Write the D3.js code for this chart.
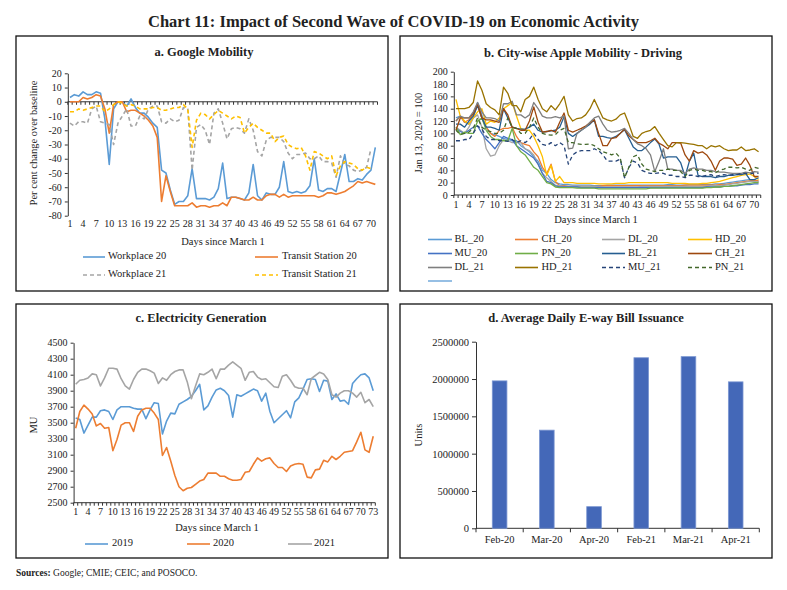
<!DOCTYPE html>
<html><head><meta charset="utf-8">
<script src="https://cdn.jsdelivr.net/npm/d3@7"></script>
<style>
body{margin:0;background:#fff}
svg{display:block}
text{font-family:"Liberation Serif","Times New Roman",serif;fill:#222}
</style>
</head><body><svg id="c" width="787" height="590"></svg>
<script>
// ---------------- DATA ----------------
const chartTitle = "Chart 11: Impact of Second Wave of COVID-19 on Economic Activity";
const sourceNote = "Google; CMIE; CEIC; and POSOCO.";

// Panel a: Google Mobility
const daysA = d3.range(1, 72);
const tickLabelsA = [1,4,7,10,13,16,19,22,25,28,31,34,37,40,43,46,49,52,55,58,61,64,67,70];
const yTicksA = [20,10,0,-10,-20,-30,-40,-50,-60,-70,-80];
const workplace20 = [3,5,4,7,5,5,7,6,-12,-44,-5,0,0,-3,2,-4,-8,-8,-11,-15,-18,-48,-50,-62,-72,-70,-70,-66,-47,-68,-68,-68,-69,-67,-61,-43,-68,-67,-67,-68,-69,-64,-44,-66,-69,-64,-65,-65,-60,-42,-63,-64,-63,-64,-63,-59,-40,-62,-63,-61,-61,-63,-50,-37,-56,-56,-54,-55,-51,-48,-32];
const transit20 = [0,0,0,3,2,3,5,4,-5,-22,-2,0,0,-7,-6,-6,-8,-10,-13,-17,-25,-70,-52,-63,-73,-73,-73,-73,-71,-74,-73,-73,-74,-73,-73,-71,-73,-67,-67,-68,-69,-69,-67,-69,-69,-66,-65,-65,-67,-65,-67,-66,-66,-66,-66,-66,-66,-67,-66,-64,-64,-65,-64,-63,-61,-59,-56,-57,-56,-57,-58];
const workplace21 = [-15,-17,-14,-14,-15,-5,-3,-14,-15,-16,-30,-15,-10,-5,-17,-17,-10,-12,-5,-3,-3,-14,-15,-12,-14,-13,-4,-5,-48,-18,-16,-20,-30,-8,-5,-15,-26,-19,-18,-19,-22,-12,-20,-35,-38,-27,-25,-25,-25,-28,-36,-40,-37,-37,-36,-40,-40,-38,-42,-42,-43,-53,-38,-44,-45,-48,-49,-48,-46,-33];
const transit21 = [-7,-7,-5,-6,-5,-4,-3,-3,-7,-5,-2,0,-1,-3,-2,-3,-5,-5,-5,-4,-4,-6,-6,-5,-4,-4,-2,-5,-32,-13,-8,-9,-12,-9,-6,-8,-10,-12,-10,-11,-22,-18,-15,-18,-20,-22,-22,-28,-25,-24,-30,-32,-33,-32,-38,-48,-35,-36,-38,-40,-38,-52,-45,-42,-43,-44,-47,-48,-46,-47];
const seriesNamesA = ["Workplace 20","Transit Station 20","Workplace 21","Transit Station 21"];

// Panel b: City-wise Apple Mobility - Driving
const daysB = d3.range(1, 72);
const tickLabelsB = [1,4,7,10,13,16,19,22,25,28,31,34,37,40,43,46,49,52,55,58,61,64,67,70];
const yTicksB = [0,20,40,60,80,100,120,140,160,180,200];
const BL_20 = [125,128,118,115,125,150,130,110,100,98,95,92,90,88,88,80,75,70,62,55,40,35,25,20,18,17,17,16,16,16,16,16,15,15,15,16,16,16,16,16,16,16,16,16,16,16,16,16,16,17,17,16,16,16,17,17,17,17,17,17,18,18,19,20,21,22,23,24,25,24,22];
const CH_20 = [120,128,118,122,130,145,125,110,100,95,105,108,108,110,95,85,82,80,70,62,45,35,50,22,15,15,14,14,14,14,14,14,14,14,15,15,15,15,15,15,15,15,15,15,15,15,15,15,15,15,15,15,15,16,16,16,16,16,16,16,16,17,17,18,19,20,21,22,23,24,23];
const DL_20 = [110,105,100,110,125,130,110,75,63,65,80,90,88,85,85,85,75,72,65,50,35,28,22,16,15,14,14,14,14,14,14,14,14,13,13,13,13,13,13,13,13,13,13,14,14,14,14,14,14,14,14,14,14,14,14,14,14,14,14,15,15,15,16,17,18,19,20,21,22,22,21];
const HD_20 = [155,128,120,115,125,135,140,115,120,118,125,140,145,150,128,108,105,105,95,80,62,32,48,22,30,20,20,20,19,19,19,19,19,18,18,18,18,19,19,19,20,20,20,20,20,20,20,20,20,20,19,19,19,19,18,18,18,19,19,20,21,22,24,26,28,30,32,33,34,30,25];
const MU_20 = [108,103,100,105,110,112,100,90,83,75,85,95,92,90,80,75,70,65,60,50,35,22,20,15,13,13,13,13,13,12,12,12,12,12,12,12,12,12,12,12,12,12,12,12,12,12,12,12,12,12,12,12,12,12,12,12,12,12,13,13,13,13,14,14,15,15,16,17,17,18,18];
const PN_20 = [110,98,102,100,100,120,125,105,95,90,90,88,88,108,80,70,65,55,45,40,30,20,18,13,12,12,12,12,11,11,11,11,11,10,10,10,10,10,10,10,10,10,10,10,10,11,11,11,11,11,11,11,11,11,11,11,11,11,12,12,13,13,14,14,15,16,17,18,19,20,20];
const BL_21 = [115,115,110,120,128,145,125,110,110,108,105,140,125,110,108,107,107,110,115,105,102,103,104,105,110,127,100,95,100,105,110,115,122,95,95,93,92,95,100,106,92,78,72,72,78,85,91,82,60,62,62,62,52,30,55,68,32,30,30,30,28,30,30,32,32,33,33,35,25,25,28];
const CH_21 = [105,125,125,125,132,148,125,122,122,120,118,140,130,110,108,105,105,120,143,118,102,103,105,102,118,133,105,102,105,108,112,117,122,100,80,80,92,93,100,107,96,90,85,85,85,88,92,84,80,75,85,85,84,65,55,72,68,70,65,55,40,55,60,60,58,48,50,60,48,30,30];
const DL_21 = [120,128,125,125,135,150,135,125,125,124,120,148,148,152,130,130,125,130,150,140,128,125,125,127,125,128,75,76,100,105,110,118,125,128,115,105,102,103,105,108,100,90,83,80,75,65,38,55,75,42,42,40,40,35,42,44,42,42,40,40,38,37,37,36,35,35,35,37,36,38,37];
const HD_21 = [140,140,140,142,150,185,170,148,142,138,130,175,165,145,145,135,155,160,175,155,140,135,145,138,148,160,130,120,124,125,130,140,155,140,125,122,120,123,130,133,115,95,92,100,103,105,111,100,90,80,78,85,85,84,83,82,80,80,75,80,78,80,75,72,73,73,78,72,73,75,70];
const MU_21 = [88,88,90,90,100,112,107,95,90,90,88,88,87,90,85,88,85,90,100,90,82,80,85,80,85,80,50,65,70,72,72,72,75,72,65,55,55,55,58,28,45,55,52,40,37,35,35,36,35,32,32,30,30,28,32,32,30,30,32,33,30,32,33,32,33,33,35,35,34,36,35];
const PN_21 = [105,98,100,102,108,125,110,105,103,100,100,105,125,110,108,100,100,110,125,110,100,98,97,98,105,108,85,85,83,82,82,83,80,75,70,68,65,68,60,28,45,62,65,50,42,40,38,40,40,42,40,40,38,30,40,42,40,40,38,38,36,40,42,45,45,44,45,42,40,45,43];
const seriesNamesB = ["BL_20","CH_20","DL_20","HD_20","MU_20","PN_20","BL_21","CH_21","DL_21","HD_21","MU_21","PN_21",""];

// Panel c: Electricity Generation
const daysC = d3.range(1, 74);
const tickLabelsC = [1,4,7,10,13,16,19,22,25,28,31,34,37,40,43,46,49,52,55,58,61,64,67,70,73];
const yTicksC = [2500,2700,2900,3100,3300,3500,3700,3900,4100,4300,4500];
const gen2019 = [3560,3540,3370,3470,3570,3570,3650,3660,3640,3540,3660,3700,3700,3700,3680,3670,3670,3550,3660,3750,3740,3360,3520,3620,3610,3730,3760,3790,3830,3900,3980,3660,3710,3820,3910,3930,3900,3840,3570,3850,3830,3860,3890,3920,3900,3770,3870,3640,3500,3550,3600,3650,3560,3760,3810,3920,4040,4050,4040,3890,4030,4020,3790,3860,3770,3780,3730,3990,4050,4100,4110,4060,3900];
const gen2020 = [3430,3640,3720,3670,3610,3460,3490,3430,3440,3150,3290,3470,3500,3500,3390,3580,3660,3680,3680,3620,3540,3090,3190,3020,2840,2700,2650,2680,2690,2730,2770,2790,2870,2870,2870,2830,2830,2800,2780,2780,2790,2880,2890,2980,3060,3020,3050,3060,2990,2940,2940,2890,2960,2980,2990,2980,2820,2810,2910,2920,3030,3010,3080,3040,3080,3130,3140,3150,3260,3380,3160,3130,3330];
const gen2021 = [3980,4030,4040,4060,4110,4100,3960,4060,4180,4180,4170,4050,3960,3920,4040,4130,4170,4170,4150,4120,3990,4060,4030,4100,4140,4160,4160,4010,3800,3960,4110,4100,4130,4170,4050,4170,4170,4220,4260,4220,4180,4030,4130,4140,4070,4040,4050,4000,3950,3940,4080,4100,4030,3950,3930,3930,3850,4050,4090,4130,4110,4040,3850,3820,3870,3900,3900,3870,3820,3880,3750,3790,3700];
const seriesNamesC = ["2019","2020","2021"];

// Panel d: Average Daily E-way Bill Issuance
const monthsD = ["Feb-20","Mar-20","Apr-20","Feb-21","Mar-21","Apr-21"];
const ewayBills = [1975000,1315000,290000,2285000,2300000,1962000];
const yTicksD = [0,500000,1000000,1500000,2000000,2500000];

// ---------------- DRAWING ----------------
const FONT = '"Liberation Serif","Times New Roman",serif';
const svg = d3.select("#c");
svg.append("rect").attr("width",787).attr("height",590).attr("fill","#fff");

svg.append("text").attr("x",393.5).attr("y",27).attr("text-anchor","middle")
  .attr("font-size",16.5).attr("font-weight","bold").attr("fill","#1a1a1a").text(chartTitle);

const src = svg.append("text").attr("x",16).attr("y",576).attr("font-size",9.5);
src.append("tspan").attr("font-weight","bold").text("Sources: ");
src.append("tspan").text(sourceNote);

function box(x,y,w,h){
  svg.append("rect").attr("x",x).attr("y",y).attr("width",w).attr("height",h)
    .attr("fill","none").attr("stroke","#111").attr("stroke-width",1.3);
}
box(16,36,372,255);
box(400,36,372,255);
box(16,304,372,254);
box(400,304,372,254);

function label(txt,x,y,size,opts={}){
  const t = svg.append("text").attr("x",x).attr("y",y).attr("font-size",size)
    .attr("text-anchor",opts.anchor||"middle").attr("dominant-baseline","middle").text(txt);
  if(opts.bold) t.attr("font-weight","bold");
  if(opts.rotate) t.attr("transform",`rotate(-90,${x},${y})`);
  return t;
}

function lineChart(cfg){
  const g = svg.append("g");
  const n = cfg.days.length;
  const x = d3.scaleBand().domain(cfg.days).range([cfg.x0, cfg.x0 + cfg.band*n]).padding(0);
  const y = d3.scaleLinear().domain(cfg.yDomain).range(cfg.yRange);
  const cx = d => x(d) + x.bandwidth()/2;
  // y axis
  const ya = g.append("g").attr("transform",`translate(${cfg.x0},0)`)
    .call(d3.axisLeft(y).tickValues(cfg.yTicks).tickSize(3).tickSizeOuter(0).tickPadding(3).tickFormat(d=>String(d)));
  ya.attr("font-family",FONT).attr("font-size",10);
  ya.selectAll("text").attr("fill","#222");
  ya.selectAll("line,path").attr("stroke","#333");
  // x axis line + ticks
  const ay = y(cfg.xAxisAt);
  g.append("line").attr("x1",cfg.x0).attr("x2",cfg.x0+cfg.band*n).attr("y1",ay).attr("y2",ay)
    .attr("stroke","#333").attr("stroke-width",1);
  g.selectAll(".xt").data(d3.range(n+1)).join("line")
    .attr("x1",i=>x.step()*i + cfg.x0).attr("x2",i=>x.step()*i + cfg.x0)
    .attr("y1",ay).attr("y2",ay+3).attr("stroke","#333");
  g.selectAll(".xl").data(cfg.xLabels).join("text")
    .attr("x",d=>cx(d)).attr("y",cfg.labelY).attr("text-anchor","middle")
    .attr("dominant-baseline","middle").attr("font-size",10).text(d=>d);
  // series
  cfg.series.forEach(s=>{
    const ln = d3.line().x((d,i)=>cx(cfg.days[i])).y(d=>y(d));
    g.append("path").datum(s.values).attr("d",ln).attr("fill","none")
      .attr("stroke",s.color).attr("stroke-width",s.width||1.6)
      .attr("stroke-dasharray",s.dash||null).attr("stroke-linejoin","round");
  });
}

function legend(items){
  items.forEach(it=>{
    svg.append("line").attr("x1",it.x1).attr("x2",it.x2).attr("y1",it.y).attr("y2",it.y)
      .attr("stroke",it.color).attr("stroke-width",1.6).attr("stroke-dasharray",it.dash||null);
    if(it.label) label(it.label,it.tx,it.y,10.5,{anchor:"start"});
  });
}

// ---- Panel a ----
label("a. Google Mobility",204,53,12.5,{bold:true});
const colA = ["#5B9BD5","#ED7D31","#A5A5A5","#FFC000"];
const dashA = [null,null,"4,3","4,3"];
lineChart({
  days: daysA, x0: 67.8, band: 4.362, yDomain:[-80,20], yRange:[215.7,73.3],
  yTicks: yTicksA, xAxisAt: 0, xLabels: tickLabelsA, labelY: 225,
  series: [workplace20,transit20,workplace21,transit21].map((v,i)=>({values:v,color:colA[i],dash:dashA[i]}))
});
label("Days since March 1",223,243,10.5);
label("Per cent change over baseline",35,143,10.5,{rotate:true});
legend([
  {label:seriesNamesA[0],color:colA[0],x1:83,x2:105,tx:108,y:257},
  {label:seriesNamesA[1],color:colA[1],x1:255,x2:278,tx:282,y:257},
  {label:seriesNamesA[2],color:colA[2],dash:dashA[2],x1:83,x2:105,tx:108,y:275},
  {label:seriesNamesA[3],color:colA[3],dash:dashA[3],x1:255,x2:278,tx:282,y:275}
]);

// ---- Panel b ----
label("b. City-wise Apple Mobility - Driving",583,54,12.5,{bold:true});
const colB = ["#5B9BD5","#ED7D31","#A5A5A5","#FFC000","#4472C4","#70AD47","#255E91","#9E480E","#7F7F7F","#997300","#264478","#43682B","#7CAFDD"];
const dashB = [null,null,null,null,null,null,null,null,null,null,"4,3","4,3",null];
const dataB = [BL_20,CH_20,DL_20,HD_20,MU_20,PN_20,BL_21,CH_21,DL_21,HD_21,MU_21,PN_21];
lineChart({
  days: daysB, x0: 453.8, band: 4.323, yDomain:[0,200], yRange:[195,71.7],
  yTicks: yTicksB, xAxisAt: 0, xLabels: tickLabelsB, labelY: 206,
  series: dataB.map((v,i)=>({values:v,color:colB[i],dash:dashB[i],width:1.3}))
});
label("Days since March 1",596,221,10.5);
label("Jan 13, 2020 = 100",420,133,10.5,{rotate:true});
const colX = [[428,452,454.5],[515,538,541.5],[602,625,628],[688,712,715]];
const rowY = [239.5,253.5,267.5,281];
legend(seriesNamesB.map((nm,i)=>({
  label:nm,color:colB[i],dash:dashB[i],
  x1:colX[i%4][0],x2:colX[i%4][1],tx:colX[i%4][2],y:rowY[Math.floor(i/4)]
})));

// ---- Panel c ----
label("c. Electricity Generation",201,319.5,12.5,{bold:true});
const colC = ["#5B9BD5","#ED7D31","#A5A5A5"];
lineChart({
  days: daysC, x0: 73.6, band: 4.133, yDomain:[2500,4500], yRange:[502.7,342.7],
  yTicks: yTicksC, xAxisAt: 2500, xLabels: tickLabelsC, labelY: 512.5,
  series: [gen2019,gen2020,gen2021].map((v,i)=>({values:v,color:colC[i]}))
});
label("Days since March 1",217,528.5,10.5);
label("MU",35,425,10.5,{rotate:true});
legend([
  {label:seriesNamesC[0],color:colC[0],x1:85,x2:108,tx:112,y:544},
  {label:seriesNamesC[1],color:colC[1],x1:187,x2:210,tx:213,y:544},
  {label:seriesNamesC[2],color:colC[2],x1:288,x2:312,tx:314,y:544}
]);

// ---- Panel d ----
label("d. Average Daily E-way Bill Issuance",586,319.5,12.5,{bold:true});
{
  const g = svg.append("g");
  const x = d3.scaleBand().domain(monthsD).range([476,759.3]).paddingInner(0.69).paddingOuter(0.345);
  const y = d3.scaleLinear().domain([0,2500000]).range([528.3,341.7]);
  const ya = g.append("g").attr("transform","translate(476,0)")
    .call(d3.axisLeft(y).tickValues(yTicksD).tickSize(4).tickSizeOuter(0).tickPadding(3).tickFormat(d=>String(d)));
  ya.attr("font-family",FONT).attr("font-size",10.5);
  ya.selectAll("text").attr("fill","#222");
  ya.selectAll("line,path").attr("stroke","#333");
  const step = (759.3-476)/monthsD.length;
  g.append("line").attr("x1",476).attr("x2",759.3).attr("y1",528.3).attr("y2",528.3).attr("stroke","#333");
  g.selectAll(".xt").data(d3.range(monthsD.length+1)).join("line")
    .attr("x1",i=>476+step*i).attr("x2",i=>476+step*i).attr("y1",528.3).attr("y2",532.3).attr("stroke","#333");
  g.selectAll("rect").data(ewayBills).join("rect")
    .attr("x",(d,i)=>x(monthsD[i])).attr("width",x.bandwidth())
    .attr("y",d=>y(d)).attr("height",d=>y(0)-y(d))
    .attr("fill","#4468B8").attr("stroke","#7C97D2").attr("stroke-width",0.8);
  g.selectAll(".xl").data(monthsD).join("text")
    .attr("x",d=>x(d)+x.bandwidth()/2).attr("y",541).attr("text-anchor","middle")
    .attr("dominant-baseline","middle").attr("font-size",10.5).text(d=>d);
}
label("Units",420,435,10.5,{rotate:true});
</script>
</body></html>
